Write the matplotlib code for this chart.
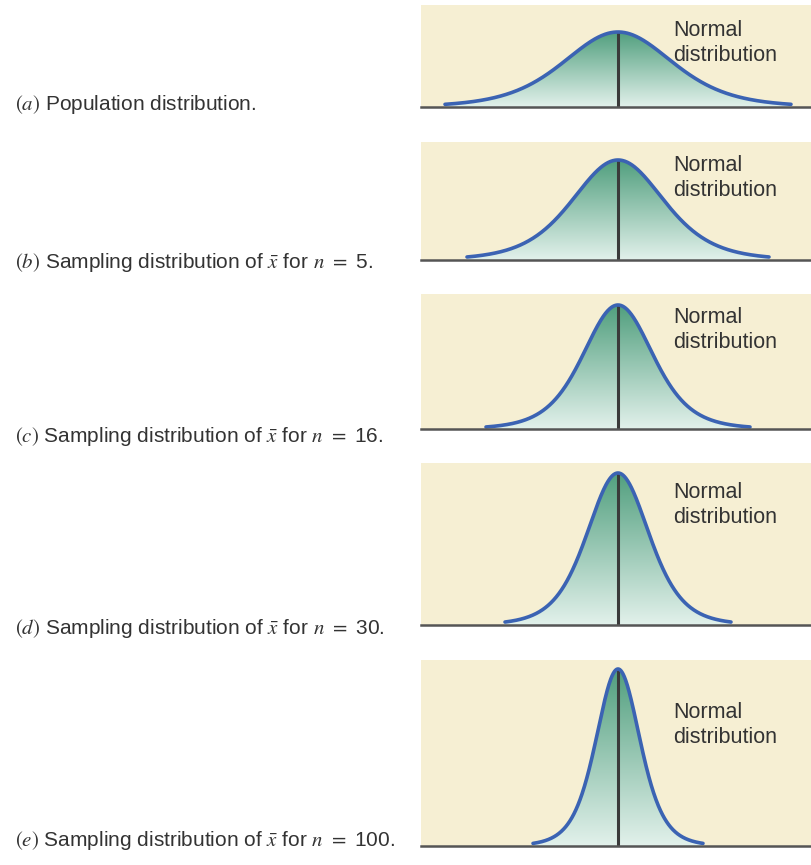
"""Sampling distributions of the mean narrowing as n grows."""

import matplotlib

matplotlib.use("Agg")

import matplotlib.pyplot as plt
import numpy as np
from matplotlib.colors import LinearSegmentedColormap

plt.rcParams["font.family"] = ["Liberation Sans", "DejaVu Sans"]
plt.rcParams["mathtext.fontset"] = "stix"

# panel content (curve units are pixels of the original drawing)
panel_letters = ["a", "b", "c", "d", "e"]
sample_sizes = [None, 5, 16, 30, 100]
curve_peak = [75, 100, 124, 152, 177]
curve_scale = [56, 47, 36, 32, 22.7]
curve_extent = [173, 151, 132, 113, 85]
shape_nu = 6
curve_text = ["Normal", "distribution"]

# layout of the original figure in pixels
W, H = 811, 865
panel_top = [5, 142, 294, 463, 660]
panel_base = [107, 260, 429, 625, 846]
label_y = [105, 262, 436, 628, 840]
note_baseline = [36, 171, 323, 498, 718]
left_px, center_px = 421, 618

BEIGE = "#f6efd3"
BLUE = "#3b63b3"
TEXT = "#333333"
green = LinearSegmentedColormap.from_list("grn", ["#e2f1eb", "#519f7e"])

fig = plt.figure(figsize=(W / 100, H / 100), dpi=100)

for i, letter in enumerate(panel_letters):
    top, base = panel_top[i], panel_base[i]
    ax = fig.add_axes([left_px / W, (H - base) / H, (W - left_px) / W, (base - top) / H])
    ax.set_xlim(left_px - center_px, W - center_px)
    ax.set_ylim(0, base - top)
    ax.set_facecolor(BEIGE)
    for s in ax.spines.values():
        s.set_visible(False)
    ax.set_xticks([])
    ax.set_yticks([])

    pk, sc, ext = curve_peak[i], curve_scale[i], curve_extent[i]
    x = np.linspace(-ext, ext, 500)
    y = pk * (1 + (x / sc) ** 2 / shape_nu) ** (-(shape_nu + 1) / 2)

    poly = ax.fill_between(x, 0, y, color="none", lw=0)
    grad = np.linspace(0, 1, 256).reshape(-1, 1)
    img = ax.imshow(grad, cmap=green, origin="lower", aspect="auto",
                    extent=[-ext, ext, 0, pk], zorder=1)
    img.set_clip_path(poly.get_paths()[0], transform=ax.transData)

    ax.plot([0, 0], [0, pk], color="#3a3a3a", lw=2.2, zorder=2, solid_capstyle="butt")
    ax.plot(x, y, color=BLUE, lw=2.6, zorder=3, solid_capstyle="round")
    ax.axhline(0, color="#555555", lw=1.8, zorder=4, clip_on=False)

    # "Normal distribution" note, two lines
    for k, line in enumerate(curve_text):
        ax.text(673 - center_px, base - (note_baseline[i] + 25 * k), line,
                fontsize=15.5, color=TEXT, va="baseline", ha="left")

    if sample_sizes[i] is None:
        label = rf"$({letter})$ Population distribution."
    else:
        label = rf"$({letter})$ Sampling distribution of $\bar{{x}}$ for $n$ $=$ {sample_sizes[i]}."
    fig.text(15 / W, 1 - label_y[i] / H, label, fontsize=15, color=TEXT,
             ha="left", va="center")

fig.savefig("out.png", dpi=100)
